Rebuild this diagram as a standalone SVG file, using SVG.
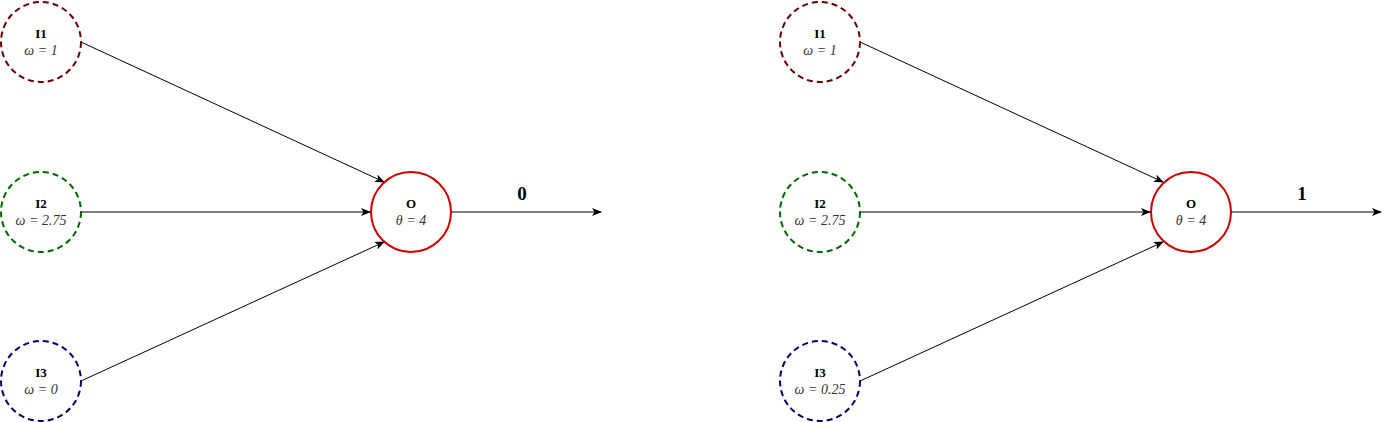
<svg xmlns="http://www.w3.org/2000/svg" width="1390" height="422" viewBox="0 0 1390 422">
<style>
.in{fill:#fff;stroke-width:2;stroke-dasharray:6 4}
.r{stroke:#660000}.g{stroke:#006600}.b{stroke:#000066}
.out{fill:#fff;stroke:#CC0000;stroke-width:2}
.e{stroke:#000;stroke-width:1;fill:none;marker-end:url(#ah)}
.t{font-family:"Liberation Serif",serif;font-size:13px;font-weight:bold;text-anchor:middle;fill:#000}
.w{font-family:"Liberation Serif",serif;font-size:14px;font-style:italic;text-anchor:middle;fill:#333}
.v{font-family:"Liberation Serif",serif;font-size:19px;font-weight:bold;text-anchor:middle;fill:#000}
</style>
<defs>
<marker id="ah" viewBox="0 0 10 10" refX="9" refY="5" markerWidth="10" markerHeight="10" markerUnits="userSpaceOnUse" orient="auto">
<path d="M0,1 L10,5 L0,9 L2.5,5 Z" fill="#000"/>
</marker>
</defs>
<g id="connectors">
<line class="e" x1="81" y1="42" x2="384" y2="182"/>
<line class="e" x1="81" y1="212" x2="370" y2="212"/>
<line class="e" x1="81" y1="381" x2="384" y2="242"/>
<line class="e" x1="451" y1="212" x2="601" y2="212"/>
<line class="e" x1="860" y1="42" x2="1163" y2="182"/>
<line class="e" x1="860" y1="212" x2="1150" y2="212"/>
<line class="e" x1="860" y1="381" x2="1163" y2="242"/>
<line class="e" x1="1231" y1="212" x2="1381" y2="212"/>
</g>
<g id="I1a"><circle class="in r" cx="41" cy="42" r="40"/><text class="t" x="41" y="38">I1</text><text class="w" x="41" y="55">ω = 1</text></g>
<g id="I2a"><circle class="in g" cx="41" cy="212" r="40"/><text class="t" x="41" y="208">I2</text><text class="w" x="41" y="225">ω = 2.75</text></g>
<g id="I3a"><circle class="in b" cx="41" cy="381" r="40"/><text class="t" x="41" y="377">I3</text><text class="w" x="41" y="394">ω = 0</text></g>
<g id="Oa"><circle class="out" cx="411" cy="212" r="40"/><text class="t" x="411" y="208">O</text><text class="w" x="411" y="225">θ = 4</text></g>
<g id="outa"><text class="v" x="522" y="200">0</text></g>
<g id="I1b"><circle class="in r" cx="820" cy="42" r="40"/><text class="t" x="820" y="38">I1</text><text class="w" x="820" y="55">ω = 1</text></g>
<g id="I2b"><circle class="in g" cx="820" cy="212" r="40"/><text class="t" x="820" y="208">I2</text><text class="w" x="820" y="225">ω = 2.75</text></g>
<g id="I3b"><circle class="in b" cx="820" cy="381" r="40"/><text class="t" x="820" y="377">I3</text><text class="w" x="820" y="394">ω = 0.25</text></g>
<g id="Ob"><circle class="out" cx="1191" cy="212" r="40"/><text class="t" x="1191" y="208">O</text><text class="w" x="1191" y="225">θ = 4</text></g>
<g id="outb"><text class="v" x="1302" y="200">1</text></g>
</svg>
